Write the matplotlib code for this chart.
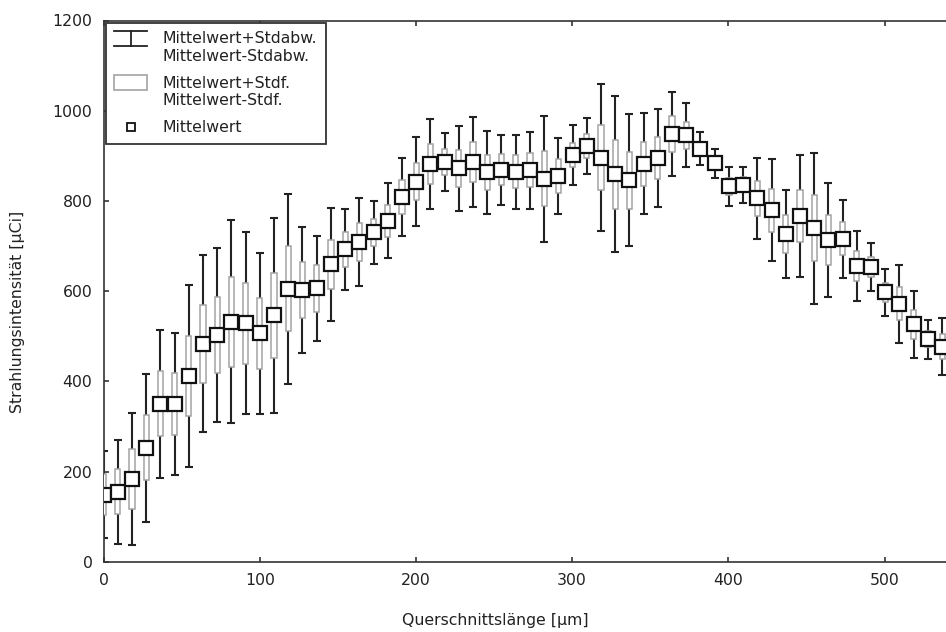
import matplotlib
matplotlib.use("Agg")
import matplotlib.pyplot as plt
from matplotlib.legend_handler import HandlerBase
from matplotlib.lines import Line2D
from matplotlib.patches import Rectangle

# Cross-section position [µm]
position = [0.0, 9.1, 18.2, 27.3, 36.4, 45.5, 54.6, 63.7, 72.8, 81.9,
            91.0, 100.1, 109.2, 118.3, 127.4, 136.5, 145.6, 154.7, 163.8, 172.9,
            182.0, 191.1, 200.2, 209.3, 218.4, 227.5, 236.6, 245.7, 254.8, 263.9,
            273.0, 282.1, 291.2, 300.3, 309.4, 318.5, 327.6, 336.7, 345.8, 354.9,
            364.0, 373.1, 382.2, 391.3, 400.4, 409.5, 418.6, 427.7, 436.8, 445.9,
            455.0, 464.1, 473.2, 482.3, 491.4, 500.5, 509.6, 518.7, 527.8, 536.9]

# Mean radiation intensity [µCi]
mean = [149, 155, 183, 253, 350, 350, 412, 483, 503, 532,
        529, 506, 546, 605, 603, 606, 659, 693, 709, 730,
        756, 809, 843, 882, 886, 872, 886, 863, 869, 865,
        868, 849, 855, 902, 922, 896, 859, 846, 882, 895,
        949, 946, 916, 883, 832, 836, 806, 779, 726, 766,
        739, 713, 716, 656, 653, 597, 572, 526, 493, 477]

# Standard deviation
std_dev = [97, 115, 147, 164, 164, 158, 201, 196, 193, 225,
           202, 178, 217, 211, 140, 117, 126, 90, 97, 69,
           83, 86, 98, 100, 65, 95, 100, 93, 77, 82,
           85, 140, 85, 66, 62, 163, 173, 146, 112, 108,
           93, 70, 36, 33, 43, 40, 90, 113, 98, 135,
           168, 126, 86, 78, 53, 53, 86, 75, 43, 63]

# Standard error
std_err = [45, 50, 66, 72, 72, 69, 89, 87, 85, 100,
           90, 79, 95, 94, 62, 52, 55, 39, 42, 30,
           35, 38, 41, 44, 28, 41, 44, 38, 34, 36,
           38, 61, 37, 27, 26, 72, 76, 63, 49, 47,
           40, 30, 15, 14, 18, 17, 39, 48, 42, 58,
           73, 55, 37, 33, 22, 22, 37, 32, 18, 28]

x_ticks = [0, 100, 200, 300, 400, 500]
y_ticks = [0, 200, 400, 600, 800, 1000, 1200]

INK = "#222222"
BOX_EDGE = "#a3a3a3"
FS = 11.3

plt.rcParams["font.family"] = ["DejaVu Sans"]

W, H = 946, 632
fig = plt.figure(figsize=(W / 100, H / 100), dpi=100)

x_max = 560
left_px, bottom_px, top_px = 103.5, 561.7, 20.5
px_per_unit = 1.562
ax = fig.add_axes([left_px / W, (H - bottom_px) / H,
                   x_max * px_per_unit / W, (bottom_px - top_px) / H])

# whiskers: mean ± standard deviation
lower = [m - s for m, s in zip(mean, std_dev)]
ax.errorbar(position, mean, yerr=std_dev, fmt="none", ecolor=INK,
            elinewidth=1.5, capsize=3.2, capthick=1.5, zorder=2)

# boxes: mean ± standard error
box_bottom = [m - e for m, e in zip(mean, std_err)]
box_height = [2 * e for e in std_err]
ax.bar(position, box_height, bottom=box_bottom, width=3.3,
       facecolor="white", edgecolor=BOX_EDGE, linewidth=1.1, zorder=3)

# mean markers
ax.plot(position, mean, "s", ms=9.5, mfc="white", mec="#111111",
        mew=1.6, zorder=4)

ax.set_xlim(0, x_max)
ax.set_ylim(0, 1200)
ax.set_xticks(x_ticks)
ax.set_yticks(y_ticks)
ax.tick_params(direction="in", length=3.5, width=1.1, top=True, right=True,
               labelsize=FS, colors=INK, pad=8)
for sp in ax.spines.values():
    sp.set_linewidth(1.2)
    sp.set_color("#333333")

fig.text(495 / W, 1 - 620 / H, "Querschnittslänge [µm]", ha="center",
         va="center", fontsize=FS, color=INK)
fig.text(18 / W, 1 - 312 / H, "Strahlungsintensität [µCi]", ha="center",
         va="center", rotation=90, fontsize=FS, color=INK)


class CapBarHandler(HandlerBase):
    def create_artists(self, legend, orig_handle, xdescent, ydescent,
                       width, height, fontsize, trans):
        shift = 0.62 * fontsize
        x0, x1 = -xdescent, -xdescent + width
        y0, y1 = -ydescent + shift, -ydescent + height + shift
        xm = 0.5 * (x0 + x1)
        arts = [Line2D([x0, x1], [y0, y0]), Line2D([x0, x1], [y1, y1]),
                Line2D([xm, xm], [y0, y1])]
        for a in arts:
            a.set_color(INK)
            a.set_linewidth(1.3)
            a.set_transform(trans)
        return arts


class BoxHandler(HandlerBase):
    def create_artists(self, legend, orig_handle, xdescent, ydescent,
                       width, height, fontsize, trans):
        shift = 0.62 * fontsize
        r = Rectangle((-xdescent, -ydescent + shift), width, height,
                      facecolor="white", edgecolor=BOX_EDGE, linewidth=1.2,
                      transform=trans)
        return [r]


class SquareHandler(HandlerBase):
    def create_artists(self, legend, orig_handle, xdescent, ydescent,
                       width, height, fontsize, trans):
        xm = -xdescent + 0.5 * width
        ym = -ydescent + 0.5 * height
        m = Line2D([xm], [ym], marker="s", ms=6, mfc="white",
                   mec="#111111", mew=1.3, linestyle="none", transform=trans)
        return [m]


h_bar, h_box, h_sq = object(), object(), object()
leg = ax.legend([h_bar, h_box, h_sq],
                ["Mittelwert+Stdabw.\nMittelwert-Stdabw.",
                 "Mittelwert+Stdf.\nMittelwert-Stdf.",
                 "Mittelwert"],
                handler_map={h_bar: CapBarHandler(), h_box: BoxHandler(),
                             h_sq: SquareHandler()},
                loc="upper left", bbox_to_anchor=(0, 1),
                borderaxespad=0.15, borderpad=0.55, handlelength=2.1,
                handleheight=1.05, handletextpad=0.95, labelspacing=0.75,
                fancybox=False, framealpha=1, edgecolor="#333333",
                prop={"size": FS})
leg.get_frame().set_linewidth(1.3)
for t in leg.get_texts():
    t.set_color(INK)

fig.savefig("out.png", dpi=100)
